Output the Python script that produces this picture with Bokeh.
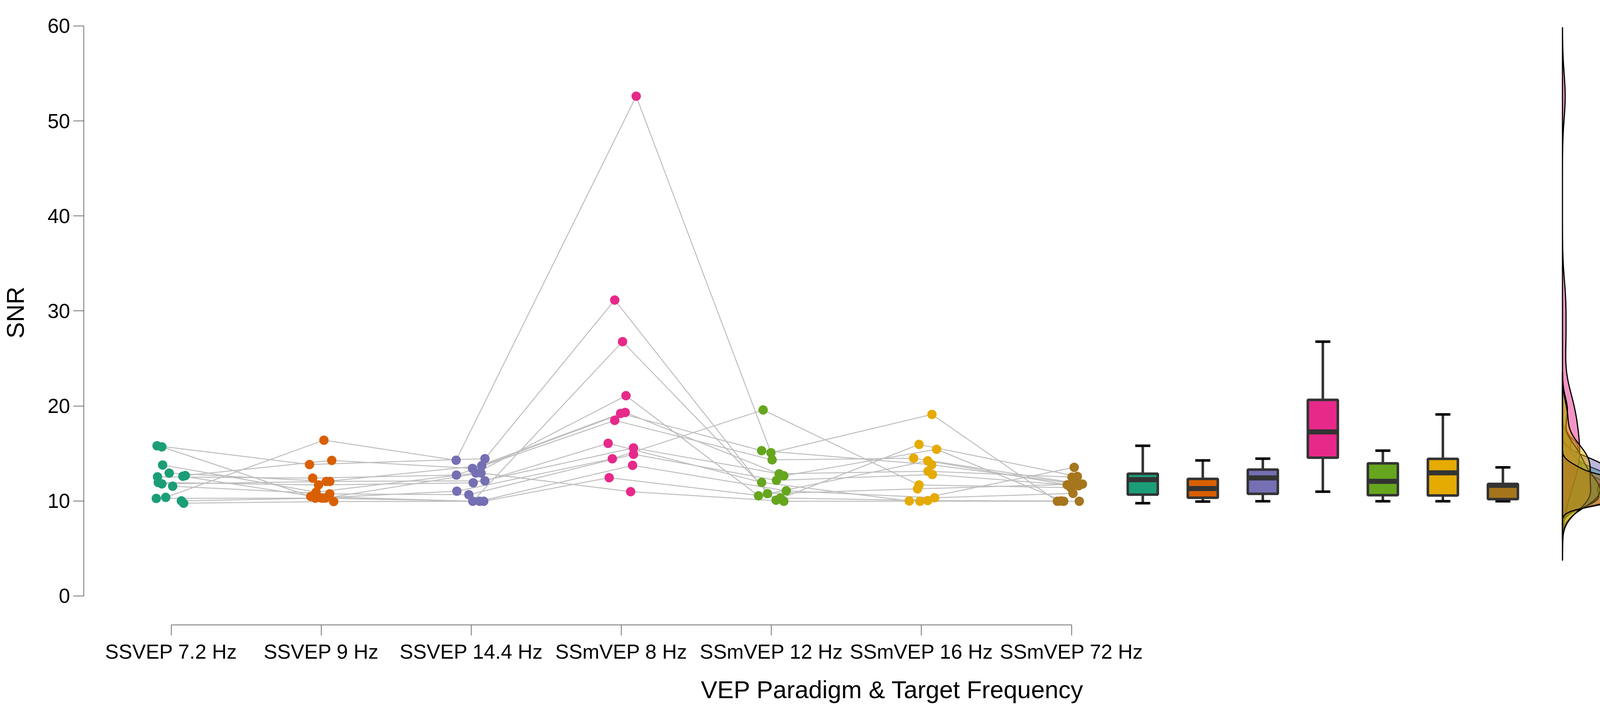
import numpy as np
from bokeh.plotting import figure
from bokeh.models import Range1d, FixedTicker
from bokeh.embed import file_html
from bokeh.resources import INLINE

categories = ["SSVEP 7.2 Hz", "SSVEP 9 Hz", "SSVEP 14.4 Hz", "SSmVEP 8 Hz",
              "SSmVEP 12 Hz", "SSmVEP 16 Hz", "SSmVEP 72 Hz"]
colors = ["#1B9E77", "#D95F02", "#7570B3", "#E7298A", "#66A61E", "#E6AB02", "#A6761D"]

# SNR per subject (same subject order in every condition)
snr_ssvep_72 = [10.38, 15.81, 15.70, 13.79, 12.93, 12.68, 12.54, 11.80, 11.95, 11.55, 10.27, 10.01, 9.77, 12.60]
snr_ssvep_9 = [16.40, 13.84, 10.48, 10.93, 12.06, 14.27, 12.41, 12.06, 11.69, 10.75, 10.30, 10.30, 9.94, 10.30]
snr_ssvep_144 = [14.29, 14.45, 9.97, 12.94, 13.72, 13.43, 12.73, 12.12, 11.91, 10.66, 11.03, 9.97, 9.97, 12.94]
snr_ssmvep_8 = [52.60, 31.15, 26.77, 21.08, 19.32, 19.21, 18.48, 16.07, 15.58, 14.92, 14.44, 13.75, 12.45, 10.98]
snr_ssmvep_12 = [15.08, 10.77, 10.08, 10.55, 12.65, 15.30, 14.33, 11.96, 12.86, 12.17, 19.58, 11.07, 10.31, 9.97]
snr_ssmvep_16 = [19.11, 11.28, 15.95, 14.23, 15.44, 13.82, 14.50, 10.00, 13.13, 12.79, 11.69, 10.34, 10.04, 9.97]
snr_ssmvep_72 = [9.97, 11.76, 12.58, 11.70, 9.97, 11.80, 11.78, 13.54, 12.51, 11.60, 11.40, 10.80, 10.00, 9.97]

# horizontal jitter of each point
jit_ssvep_72 = [-0.036, -0.094, -0.062, -0.057, -0.013, 0.094, -0.091, -0.062, -0.086, 0.010, -0.099, 0.068, 0.083, 0.078]
jit_ssvep_9 = [0.018, -0.078, -0.070, -0.034, 0.034, 0.070, -0.057, 0.057, -0.018, 0.057, -0.039, 0.003, 0.083, 0.026]
jit_ssvep_144 = [-0.101, 0.091, 0.010, 0.031, 0.070, 0.008, -0.099, 0.091, 0.013, -0.016, -0.096, 0.055, 0.083, 0.065]
jit_ssmvep_8 = [0.099, -0.044, 0.008, 0.031, 0.026, -0.005, -0.044, -0.088, 0.081, 0.081, -0.060, 0.075, -0.081, 0.062]
jit_ssmvep_12 = [-0.003, -0.026, 0.031, -0.086, 0.083, -0.065, 0.005, -0.065, 0.052, 0.034, -0.055, 0.099, 0.060, 0.083]
jit_ssmvep_16 = [0.070, -0.026, -0.016, 0.042, 0.101, 0.068, -0.052, -0.081, 0.044, 0.073, -0.016, 0.088, 0.042, -0.010]
jit_ssmvep_72 = [-0.094, 0.013, 0.039, -0.029, -0.052, 0.034, 0.073, 0.018, 0.003, 0.047, -0.005, 0.010, -0.070, 0.052]

y_ticks = [0, 10, 20, 30, 40, 50, 60]

groups = [snr_ssvep_72, snr_ssvep_9, snr_ssvep_144, snr_ssmvep_8, snr_ssmvep_12, snr_ssmvep_16, snr_ssmvep_72]
jitters = [jit_ssvep_72, jit_ssvep_9, jit_ssvep_144, jit_ssmvep_8, jit_ssmvep_12, jit_ssmvep_16, jit_ssmvep_72]

FONT = "Liberation Sans"

p = figure(width=4374, height=1809, output_backend="svg", toolbar_location=None,
           x_range=Range1d(0.4177, 11.195), y_range=Range1d(-3.043, 62.71),
           min_border_left=208, min_border_right=20, min_border_top=0, min_border_bottom=210)
p.outline_line_color = None
p.xgrid.grid_line_color = None
p.ygrid.grid_line_color = None
p.background_fill_color = "white"

n_sub = len(groups[0])
# subject lines
for s in range(n_sub):
    xs = [g + 1 + jitters[g][s] for g in range(len(groups))]
    ys = [groups[g][s] for g in range(len(groups))]
    p.line(xs, ys, line_color="#BEBEBE", line_width=2.5)

# points
for g, vals in enumerate(groups):
    xs = [g + 1 + j for j in jitters[g]]
    p.scatter(xs, vals, size=24, fill_color=colors[g], line_color=colors[g], line_width=0)

# boxplots
for g, vals in enumerate(groups):
    v = np.array(vals)
    q1, med, q3 = np.percentile(v, [25, 50, 75])
    iqr = q3 - q1
    up = v[v <= q3 + 1.5 * iqr].max()
    lo = v[v >= q1 - 1.5 * iqr].min()
    bx = 7.475 + 0.4 * g
    p.segment([bx, bx], [q3, q1], [bx, bx], [up, lo], line_color="#333333", line_width=6.5)
    p.segment([bx - 0.05, bx - 0.05], [up, lo], [bx + 0.05, bx + 0.05], [up, lo],
              line_color="black", line_width=6.5)
    p.quad(left=bx - 0.1, right=bx + 0.1, bottom=q1, top=q3, fill_color=colors[g],
           line_color="#333333", line_width=6.5)
    p.segment(bx - 0.1, med, bx + 0.1, med, line_color="#333333", line_width=13)

# densities (R density(): gaussian kernel, bw.nrd0, cut = 3)
def r_density(x, n=512):
    x = np.asarray(x, float)
    sd = x.std(ddof=1)
    q1, q3 = np.percentile(x, [25, 75])
    lo = min(sd, (q3 - q1) / 1.34)
    bw = 0.9 * lo * len(x) ** (-0.2)
    grid = np.linspace(x.min() - 3 * bw, x.max() + 3 * bw, n)
    d = np.exp(-0.5 * ((grid[:, None] - x[None, :]) / bw) ** 2).sum(axis=1)
    d /= (len(x) * bw * np.sqrt(2 * np.pi))
    return grid, d

dens = [r_density(v) for v in groups]
dmax = max(d.max() for _, d in dens)
base = 10.272
scale = 0.507 / dmax
for g, (grid, d) in enumerate(dens):
    xs = np.concatenate([[base], base + d * scale, [base]])
    ys = np.concatenate([[grid[0]], grid, [grid[-1]]])
    p.patch(xs, ys, fill_color=colors[g], fill_alpha=0.5, line_color="black", line_width=3)

# axes
for ax in (p.xaxis[0], p.yaxis[0]):
    ax.axis_line_color = "#444444"
    ax.axis_line_width = 1.5
    ax.major_tick_line_color = "#444444"
    ax.major_tick_line_width = 1.5
    ax.major_tick_out = 27
    ax.major_tick_in = 0
    ax.minor_tick_line_color = None
    ax.major_label_text_font = FONT
    ax.major_label_text_font_size = "52px"
    ax.major_label_text_color = "black"
    ax.axis_label_text_font = FONT
    ax.axis_label_text_font_size = "63px"
    ax.axis_label_text_font_style = "normal"
    ax.axis_label_text_color = "black"

p.xaxis.ticker = FixedTicker(ticks=list(range(1, len(categories) + 1)))
p.xaxis.major_label_overrides = {i + 1: c for i, c in enumerate(categories)}
p.xaxis.bounds = (1, len(categories))
p.xaxis.major_label_standoff = 12
p.xaxis.axis_label = "VEP Paradigm & Target Frequency"
p.xaxis.axis_label_standoff = 30

p.yaxis.ticker = FixedTicker(ticks=y_ticks)
p.yaxis.bounds = (y_ticks[0], y_ticks[-1])
p.yaxis.major_label_standoff = 8
p.yaxis.axis_label = "SNR"
p.yaxis.axis_label_standoff = 45

open("out.html", "w").write(file_html(p, INLINE))
